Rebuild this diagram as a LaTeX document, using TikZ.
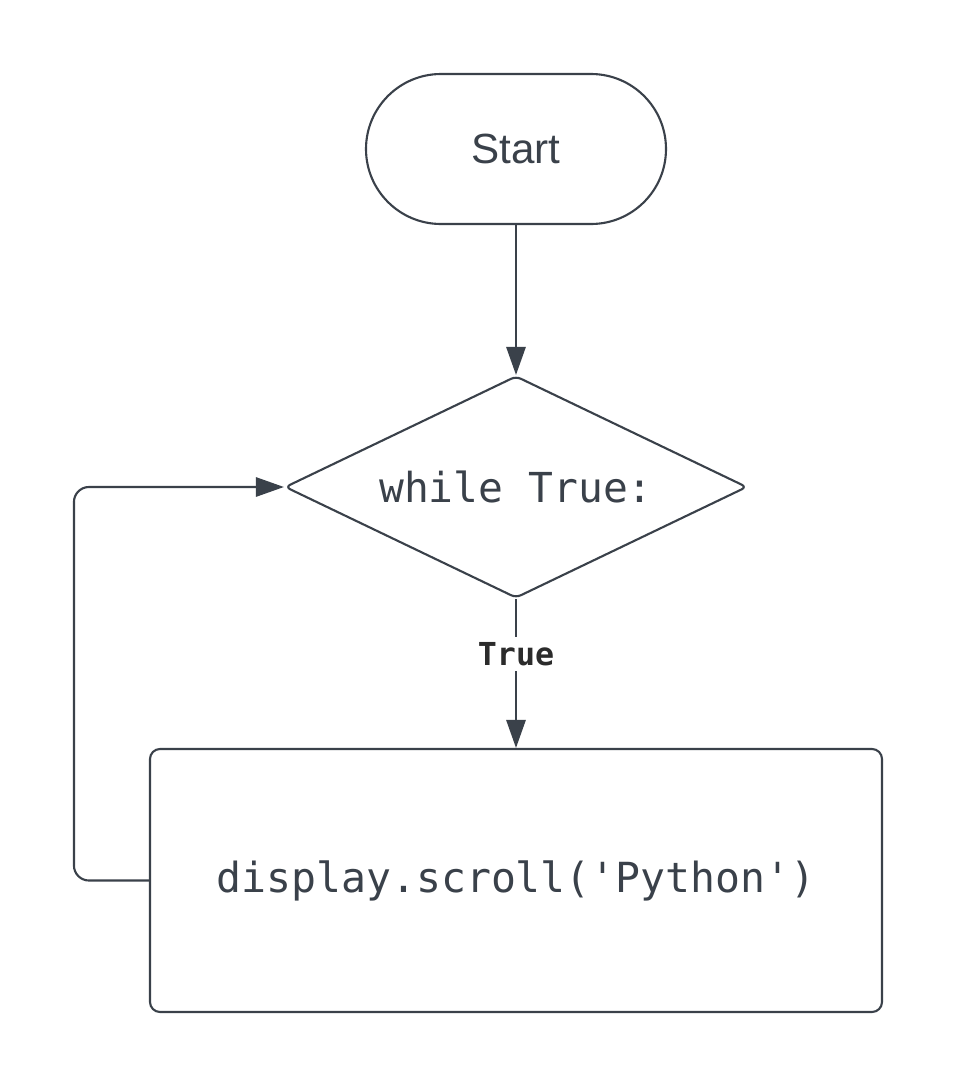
\documentclass[tikz,border=0pt]{standalone}
\usepackage{fontspec}
\setmainfont{Liberation Sans}
\setmonofont{DejaVu Sans Mono}
\usetikzlibrary{shapes.geometric,arrows.meta}
\definecolor{ink}{HTML}{3A414A}
\definecolor{labelink}{HTML}{2B2B2B}
\tikzset{
	flow/.style={draw=ink, line width=1.2pt, text=ink},
	arrow/.style={draw=ink, line width=1.2pt, -{Triangle[length=16pt,width=11pt]}}
}
\begin{document}
\begin{tikzpicture}
	\useasboundingbox (0,0) rectangle (19.16,-21.76);
	% --- Start ---
	\node[flow, rectangle, rounded corners=1.5cm, minimum width=6cm, minimum height=3cm,
		font=\fontsize{24}{28}\selectfont] (start) at (10.32,-2.98) {Start};

	% --- Condition ---
	\node[flow, diamond, aspect=2.08, rounded corners=3pt, minimum width=9.24cm, minimum height=4.44cm,
		inner sep=0pt, font=\ttfamily\fontsize{23.5}{27}\selectfont] (cond) at (10.32,-9.74) {while True:};

	% --- Corps de boucle ---
	\node[flow, rectangle, rounded corners=0.2cm, minimum width=14.64cm, minimum height=5.26cm,
		font=\ttfamily\fontsize{23.6}{27}\selectfont] (body) at (10.32,-17.61) {\raisebox{-0.1cm}{display.scroll('Python')}};

	% --- Fleches ---
	\draw[arrow] (start) -- (cond);
	\draw[arrow] (cond) -- node[pos=0.37, fill=white, inner sep=3pt, text=labelink,
		font=\ttfamily\bfseries\fontsize{18}{22}\selectfont] (lbltrue) {True} (body);
	\draw[arrow, rounded corners=0.3cm] (body.west) -- ++(-1.5,0) |- (cond.west);
\end{tikzpicture}
\end{document}
